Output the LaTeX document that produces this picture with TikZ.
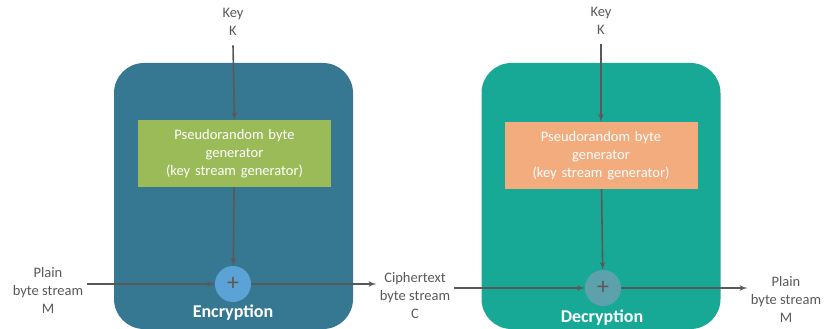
\documentclass[tikz,border=0pt]{standalone}
\usepackage{fontspec}
\setmainfont{Carlito}
\usetikzlibrary{shapes,arrows,positioning,calc}

\definecolor{encblue}{HTML}{367891}
\definecolor{decgreen}{HTML}{17A996}
\definecolor{gengreen}{HTML}{9BBB59}
\definecolor{genorange}{HTML}{F2AC7E}
\definecolor{xorblue}{HTML}{5BA3D6}
\definecolor{xorteal}{HTML}{5DA1AD}
\definecolor{txtgray}{HTML}{595959}

\begin{document}
\begin{tikzpicture}[
    x=1pt, y=-1pt,
    font=\fontsize{14.5}{18}\selectfont,
    panel/.style={rectangle, rounded corners=30pt, minimum width=239pt, minimum height=266pt},
    gen/.style={rectangle, text=white, text width=185pt, align=center, minimum width=193pt, minimum height=67pt, inner sep=0pt},
    xor/.style={circle, minimum size=36pt, inner sep=0pt, text=txtgray, font=\fontsize{24}{24}\selectfont},
    label/.style={text=txtgray, align=center},
    title/.style={text=white, font=\fontsize{18}{18}\selectfont\bfseries},
    line/.style={draw, txtgray, line width=1.6pt, -latex'}
]
    \useasboundingbox (0,0) rectangle (824,329);

    \node [panel, fill=encblue] (encpanel) at (233.5,196) {};
    \node [panel, fill=decgreen] (decpanel) at (601,196) {};

    \node [gen, fill=gengreen] (gen1) at (234.5,153.5) {Pseudorandom byte\\generator\\(key stream generator)};
    \node [gen, fill=genorange] (gen2) at (601,155.5) {Pseudorandom byte\\generator\\(key stream generator)};

    \node [xor, fill=xorblue] (xor1) at (233,284) {+};
    \node [xor, fill=xorteal] (xor2) at (603,288) {+};

    \node [label, anchor=north] (key1) at (233,5) {Key\\K};
    \node [label, anchor=north] (key2) at (601,4) {Key\\K};

    \node [label] (plain1) at (48,290) {Plain\\byte stream\\M};
    \node [label] (cipher) at (415,296) {Ciphertext\\byte stream\\C};
    \node [label] (plain2) at (786,299) {Plain\\byte stream\\M};

    \node [title] (enc) at (233,313) {Encryption};
    \node [title] (dec) at (602,318) {Decryption};

    \path [line] (key1.south) ++(0,-6pt) -- (gen1.north);
    \path [line] (key2.south) ++(0,-6pt) -- (gen2.north);
    \path [line] (gen1) -- (xor1);
    \path [line] (gen2) -- (xor2);
    \path [line] (plain1.east |- xor1) -- (xor1);
    \path [line] (xor1) -- (xor1 -| cipher.west);
    \path [line] (cipher.east |- xor2) -- (xor2);
    \path [line] (xor2) -- (xor2 -| plain2.west);
\end{tikzpicture}
\end{document}
